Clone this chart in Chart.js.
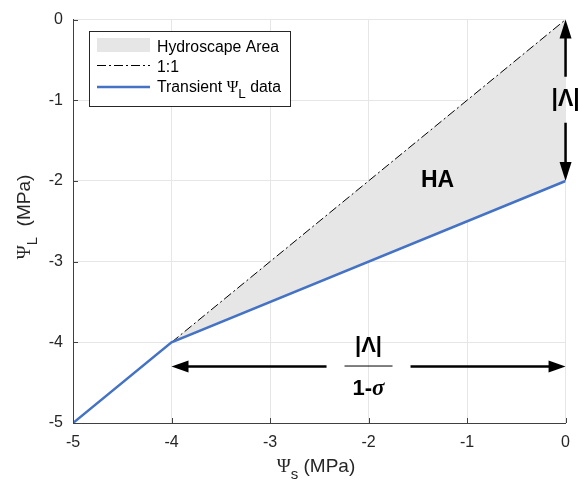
<!DOCTYPE html>
<html>
<head>
<meta charset="utf-8">
<script src="https://cdn.jsdelivr.net/npm/chart.js@4/dist/chart.umd.min.js"></script>
<style>
html,body{margin:0;padding:0;background:#fff;}
canvas{display:block;}
</style>
</head>
<body>
<canvas id="c" width="580" height="482"></canvas>
<script>
// ---- data ----
const xTicks = [-5, -4, -3, -2, -1, 0];
const yTicks = [-5, -4, -3, -2, -1, 0];
const transientX = [-5, -4, 0];
const transientY = [-5, -4, -2];
const oneToOneX = [-4, 0];
const oneToOneY = [-4, 0];
const areaX = [-4, 0, 0, -4];
const areaY = [-4, 0, -2, -4];
// annotation anchors (data units)
const lambdaArrowX = [0, 0];
const lambdaArrowY = [0, -2];
const sigmaArrowX = [-4, 0];
const sigmaArrowY = [-4.3, -4.3];
const haLabel = [-1.3, -2.0];
const lambdaLabel = [0, -0.98];
const fracLabel = [-2.0, -4.3];

const zip = (xs, ys) => xs.map((x, i) => ({x: x, y: ys[i]}));

const SANS = '"Liberation Sans", Arial, Helvetica, sans-serif';
const SERIF = '"Liberation Serif", "DejaVu Serif", serif';
const TXT = '#262626';

function richWidth(ctx, parts) {
  let w = 0;
  parts.forEach(p => { ctx.font = p.font; w += ctx.measureText(p.t).width; });
  return w;
}
function drawRich(ctx, parts, x, y, align) {
  const w = richWidth(ctx, parts);
  let cx = align === 'center' ? x - w / 2 : x;
  ctx.textAlign = 'left';
  parts.forEach(p => {
    ctx.font = p.font;
    ctx.fillText(p.t, cx, y + (p.dy || 0));
    cx += ctx.measureText(p.t).width;
  });
}
function arrowHead(ctx, tx, ty, dx, dy, len, half) {
  const bx = tx - dx * len, by = ty - dy * len;
  const nx = -dy, ny = dx;
  ctx.beginPath();
  ctx.moveTo(tx, ty);
  ctx.lineTo(bx + nx * half, by + ny * half);
  ctx.lineTo(bx - nx * half, by - ny * half);
  ctx.closePath();
  ctx.fill();
}

const decor = {
  id: 'decor',
  afterDraw(chart) {
    const ctx = chart.ctx;
    const xs = chart.scales.x, ys = chart.scales.y;
    const ca = chart.chartArea;
    ctx.save();
    // inward ticks
    ctx.strokeStyle = '#404040';
    ctx.lineWidth = 1;
    ctx.beginPath();
    xTicks.forEach(v => {
      const px = Math.round(xs.getPixelForValue(v)) + 0.5;
      ctx.moveTo(px, ca.bottom); ctx.lineTo(px, ca.bottom - 5);
    });
    yTicks.forEach(v => {
      const py = Math.round(ys.getPixelForValue(v)) + 0.5;
      ctx.moveTo(ca.left, py); ctx.lineTo(ca.left + 5, py);
    });
    ctx.stroke();

    // axis titles
    ctx.fillStyle = TXT;
    ctx.textBaseline = 'alphabetic';
    drawRich(ctx, [
      {t: 'Ψ', font: '19px ' + SERIF},
      {t: 's', font: '15px ' + SANS, dy: 7},
      {t: ' (MPa)', font: '19px ' + SANS}
    ], 316, 472, 'center');
    ctx.save();
    ctx.translate(30, 217);
    ctx.rotate(-Math.PI / 2);
    drawRich(ctx, [
      {t: 'Ψ', font: '19px ' + SERIF},
      {t: 'L', font: '15px ' + SANS, dy: 7},
      {t: '  (MPa)', font: '19px ' + SANS}
    ], 0, 0, 'center');
    ctx.restore();

    // arrows
    ctx.strokeStyle = '#000';
    ctx.fillStyle = '#000';
    ctx.lineWidth = 2.5;
    const vx = xs.getPixelForValue(lambdaArrowX[0]);
    const vy0 = ys.getPixelForValue(lambdaArrowY[0]);
    const vy1 = ys.getPixelForValue(lambdaArrowY[1]);
    const vmid = ys.getPixelForValue(lambdaLabel[1]);
    ctx.beginPath();
    ctx.moveTo(vx, vy0 + 10); ctx.lineTo(vx, vmid - 22);
    ctx.moveTo(vx, vmid + 24); ctx.lineTo(vx, vy1 - 10);
    ctx.stroke();
    arrowHead(ctx, vx, vy0, 0, -1, 19, 6);
    arrowHead(ctx, vx, vy1, 0, 1, 19, 6);
    const hy = ys.getPixelForValue(sigmaArrowY[0]);
    const hx0 = xs.getPixelForValue(sigmaArrowX[0]);
    const hx1 = xs.getPixelForValue(sigmaArrowX[1]);
    const hmid = xs.getPixelForValue(fracLabel[0]);
    ctx.beginPath();
    ctx.moveTo(hx0 + 10, hy); ctx.lineTo(hmid - 42, hy);
    ctx.moveTo(hmid + 42, hy); ctx.lineTo(hx1 - 10, hy);
    ctx.stroke();
    arrowHead(ctx, hx0, hy, -1, 0, 17, 6);
    arrowHead(ctx, hx1, hy, 1, 0, 17, 6);

    // labels
    ctx.textBaseline = 'middle';
    ctx.textAlign = 'center';
    ctx.font = 'bold 23px ' + SANS;
    ctx.fillText('HA', xs.getPixelForValue(haLabel[0]), ys.getPixelForValue(haLabel[1]));
    ctx.font = 'bold 23px ' + SANS;
    ctx.fillText('|Λ|', vx, vmid + 1);
    ctx.font = 'bold 22px ' + SANS;
    ctx.fillText('|Λ|', hmid, hy - 21);
    ctx.lineWidth = 1;
    ctx.beginPath();
    ctx.moveTo(hmid - 24, hy - 0.5); ctx.lineTo(hmid + 24, hy - 0.5);
    ctx.stroke();
    ctx.textBaseline = 'alphabetic';
    drawRich(ctx, [
      {t: '1-', font: 'bold 22px ' + SANS},
      {t: 'σ', font: 'italic bold 23px ' + SERIF}
    ], hmid, hy + 28, 'center');

    // legend
    const lx = 89.5, ly = 31.5, lw = 201, lh = 75;
    ctx.fillStyle = '#fff';
    ctx.fillRect(lx, ly, lw, lh);
    ctx.strokeStyle = '#262626';
    ctx.lineWidth = 1;
    ctx.strokeRect(lx, ly, lw, lh);
    ctx.fillStyle = '#e6e6e6';
    ctx.fillRect(97, 38, 53, 14);
    ctx.strokeStyle = '#000';
    ctx.setLineDash([9, 3, 2, 3]);
    ctx.beginPath(); ctx.moveTo(97, 65.5); ctx.lineTo(150, 65.5); ctx.stroke();
    ctx.setLineDash([]);
    ctx.strokeStyle = '#4472C4';
    ctx.lineWidth = 2.5;
    ctx.beginPath(); ctx.moveTo(97, 87); ctx.lineTo(150, 87); ctx.stroke();
    ctx.fillStyle = '#000';
    ctx.textBaseline = 'alphabetic';
    ctx.textAlign = 'left';
    ctx.font = '15.8px ' + SANS;
    ctx.fillText('Hydroscape Area', 157, 51.5);
    ctx.fillText('1:1', 157, 72);
    drawRich(ctx, [
      {t: 'Transient ', font: '15.8px ' + SANS},
      {t: 'Ψ', font: '15.8px ' + SERIF},
      {t: 'L', font: '13.5px ' + SANS, dy: 6},
      {t: ' data', font: '15.8px ' + SANS}
    ], 157, 92, 'left');
    ctx.restore();
  }
};

new Chart(document.getElementById('c'), {
  type: 'scatter',
  data: {
    datasets: [
      {
        label: 'Hydroscape Area',
        order: 3,
        data: zip(areaX, areaY),
        showLine: true,
        fill: 'shape',
        backgroundColor: '#e6e6e6',
        borderColor: 'rgba(0,0,0,0)',
        borderWidth: 0,
        pointRadius: 0,
        tension: 0
      },
      {
        label: '1:1',
        order: 2,
        data: zip(oneToOneX, oneToOneY),
        showLine: true,
        fill: false,
        borderColor: '#000',
        borderWidth: 1,
        borderDash: [9, 3, 2, 3],
        pointRadius: 0
      },
      {
        label: 'Transient ΨL data',
        order: 1,
        data: zip(transientX, transientY),
        showLine: true,
        fill: false,
        borderColor: '#4472C4',
        borderWidth: 2.5,
        pointRadius: 0
      }
    ]
  },
  options: {
    responsive: false,
    animation: false,
    devicePixelRatio: 1,
    layout: {padding: {top: 13, right: 13, left: 0, bottom: 0}},
    plugins: {legend: {display: false}, tooltip: {enabled: false}},
    scales: {
      x: {
        type: 'linear', min: -5, max: 0,
        afterBuildTicks: s => { s.ticks = xTicks.map(v => ({value: v})); },
        ticks: {color: TXT, font: {family: SANS, size: 16}, padding: 10,
                callback: v => String(v)},
        grid: {color: '#e6e6e6', drawTicks: false},
        border: {color: '#404040', width: 1},
        afterFit: s => { s.height = 59; }
      },
      y: {
        type: 'linear', min: -5, max: 0,
        afterBuildTicks: s => { s.ticks = yTicks.map(v => ({value: v})); },
        ticks: {color: TXT, font: {family: SANS, size: 16}, padding: 10,
                callback: v => String(v)},
        grid: {color: '#e6e6e6', drawTicks: false},
        border: {color: '#404040', width: 1},
        afterFit: s => { s.width = 73; }
      }
    }
  },
  plugins: [decor]
});
</script>
</body>
</html>
